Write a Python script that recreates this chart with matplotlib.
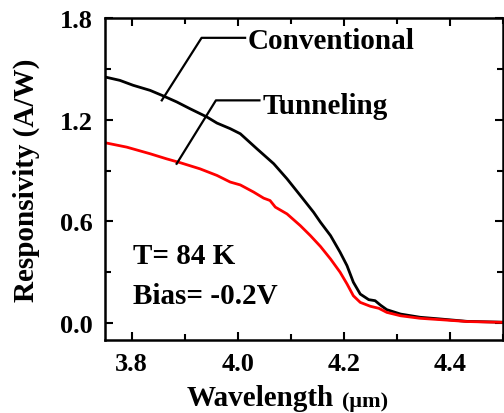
import matplotlib
matplotlib.use("Agg")
import matplotlib.pyplot as plt
from matplotlib.ticker import MultipleLocator

# responsivity spectra, T = 84 K, bias -0.2 V
wl_conv = [3.75, 3.778, 3.803, 3.835, 3.86, 3.885, 3.910, 3.942, 3.961, 3.986,
           4.005, 4.036, 4.068, 4.093, 4.118, 4.143, 4.156, 4.175, 4.193, 4.206,
           4.218, 4.231, 4.247, 4.259, 4.269, 4.281, 4.307, 4.344, 4.382, 4.432,
           4.50]
resp_conv = [1.452, 1.432, 1.403, 1.373, 1.340, 1.305, 1.265, 1.216, 1.180, 1.147,
             1.117, 1.029, 0.940, 0.851, 0.753, 0.654, 0.595, 0.516, 0.418, 0.339,
             0.241, 0.171, 0.138, 0.132, 0.106, 0.079, 0.053, 0.034, 0.024, 0.010,
             0.005]

wl_tun = [3.75, 3.791, 3.835, 3.866, 3.892, 3.929, 3.961, 3.986, 4.005, 4.030,
          4.049, 4.061, 4.071, 4.093, 4.118, 4.137, 4.156, 4.175, 4.193, 4.206,
          4.218, 4.231, 4.250, 4.266, 4.281, 4.307, 4.344, 4.382, 4.432, 4.50]
resp_tun = [1.064, 1.038, 0.999, 0.969, 0.946, 0.910, 0.871, 0.832, 0.815, 0.773,
            0.737, 0.723, 0.684, 0.644, 0.575, 0.516, 0.452, 0.378, 0.300, 0.231,
            0.161, 0.122, 0.099, 0.087, 0.063, 0.043, 0.028, 0.020, 0.009, 0.004]

xticks = [3.8, 4.0, 4.2, 4.4]
yticks = [0.0, 0.6, 1.2, 1.8]

plt.rcParams['font.family'] = ['Liberation Serif', 'DejaVu Serif']
plt.rcParams['font.weight'] = 'bold'

fig = plt.figure(figsize=(5.04, 4.14), dpi=100)
ax = fig.add_axes([105 / 504, 1 - 341 / 414, 398 / 504, 322 / 414])

ax.plot(wl_conv, resp_conv, color='black', lw=2.0)
ax.plot(wl_tun, resp_tun, color='#ff0000', lw=2.0)

ax.set_xlim(3.75, 4.5)
ax.set_ylim(-0.1, 1.8)
ax.set_xticks(xticks)
ax.set_yticks(yticks)
ax.set_xticklabels([f"{v:.1f}" for v in xticks])
ax.set_yticklabels([f"{v:.1f}" for v in yticks])
ax.xaxis.set_minor_locator(MultipleLocator(0.1))
ax.yaxis.set_minor_locator(MultipleLocator(0.3))
ax.tick_params(which='both', direction='in', top=True, right=True,
               width=1.5, labelsize=19, pad=9)
ax.tick_params(which='major', length=6)
ax.tick_params(which='minor', length=4)
for s in ax.spines.values():
    s.set_linewidth(1.8)

ax.set_ylabel("Responsivity (A/W)", fontsize=21, fontweight='bold', labelpad=14)
fig.text(187 / 504, 1 - 406 / 414, "Wavelength", fontsize=21, fontweight='bold',
         ha='left', va='baseline')
fig.text(342 / 504, 1 - 407 / 414, "(μm)", fontsize=16, fontweight='bold',
         ha='left', va='baseline')

# leader lines for the curve names
ax.plot([3.857, 3.932, 4.014], [1.314, 1.683, 1.683], color='black', lw=1.6)
ax.plot([3.885, 3.959, 4.041], [0.94, 1.314, 1.314], color='black', lw=1.6)
ax.text(4.018, 1.665, "Conventional", fontsize=21, fontweight='bold', va='center')
ax.text(4.047, 1.285, "Tunneling", fontsize=21, fontweight='bold', va='center')

ax.text(3.803, 0.40, "T= 84 K", fontsize=21, fontweight='bold', va='center')
ax.text(3.803, 0.16, "Bias= -0.2V", fontsize=21, fontweight='bold', va='center')

fig.savefig("out.png", dpi=100)
